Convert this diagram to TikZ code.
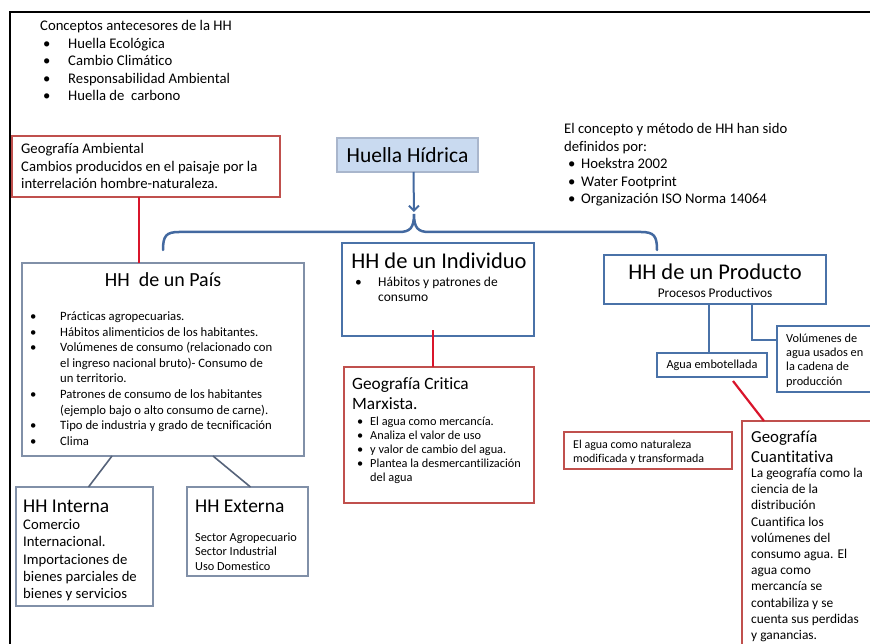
\documentclass[tikz,border=0pt]{standalone}
\usepackage{fontspec}
\setmainfont{Carlito}[Ligatures=NoCommon]
\usetikzlibrary{arrows.meta,calc}

\definecolor{boxred}{HTML}{C0504D}
\definecolor{linkred}{HTML}{D9152B}
\definecolor{boxblue}{HTML}{4A72A8}
\definecolor{boxgray}{HTML}{8190A8}
\definecolor{bracecol}{HTML}{4369A0}
\definecolor{linkgray}{HTML}{56637A}
\definecolor{hhfill}{HTML}{C9DAF0}
\definecolor{hhedge}{HTML}{A9B6CC}

\newcommand\fs[2]{\fontsize{#1}{#2}\selectfont}
\newcommand\bul[1]{\makebox[#1][l]{\textbullet}}
% stacked lines whose reference point is the first baseline
\newcommand\lines[1]{\begin{tabular}[t]{@{}l@{}}#1\end{tabular}}

\begin{document}
\begin{tikzpicture}[x=1pt,y=-1pt,
  panel/.style={inner sep=0, outer sep=0, anchor=north west, line width=1.2pt},
  redbox/.style={panel, draw=boxred},
  bluebox/.style={panel, draw=boxblue},
  graybox/.style={panel, draw=boxgray},
  txt/.style={inner sep=0, anchor=base west},
  ctxt/.style={inner sep=0, anchor=base},
  redlink/.style={draw=linkred, line width=2.2pt},
  bluelink/.style={draw=boxblue, line width=2pt},
  graylink/.style={draw=linkgray, line width=1.6pt},
  bracepath/.style={draw=bracecol, line width=2.5pt, line cap=round}
]
\useasboundingbox (0,0) rectangle (870,644);
\clip (0,0) rectangle (870,644);

% page frame
\draw[line width=2pt, black] (10,650) -- (10,12) -- (880,12);

% precursor concepts
\node[txt, font=\fs{14.7}{17.5}] (antec) at (40,31)
  {\lines{Conceptos antecesores de la HH\\
   \hspace*{3pt}\bul{25pt}Huella Ecológica\\
   \hspace*{3pt}\bul{25pt}Cambio Climático\\
   \hspace*{3pt}\bul{25pt}Responsabilidad Ambiental\\
   \hspace*{3pt}\bul{25pt}Huella de\ \ carbono}};

% who defined the concept
\node[txt, font=\fs{14.7}{17.5}] (defin) at (564,134)
  {\lines{El concepto y método de HH han sido\\
   definidos por:\\
   \hspace*{4pt}\bul{13pt}Hoekstra 2002\\
   \hspace*{4pt}\bul{13pt}Water Footprint\\
   \hspace*{4pt}\bul{13pt}Organización ISO Norma 14064}};

% environmental geography
\node[redbox, minimum width=268pt, minimum height=61pt] (ambiental) at (12,136) {};
\node[txt, font=\fs{14.7}{17.5}] at (21,154)
  {\lines{Geografía Ambiental\\
   Cambios producidos en el paisaje por la\\
   interrelación hombre-naturaleza.}};

% central concept
\node[panel, draw=hhedge, fill=hhfill, minimum width=141pt, minimum height=34pt,
      font=\fs{21.5}{24}] (huella) at (337,138) {Huella Hídrica};

% brace splitting into the three scales
\coordinate (bl) at (163,250);
\coordinate (bc) at (414,214);
\coordinate (br) at (657,250);
\path[bracepath] (bl) .. controls (163,236) and (166,232) .. (179,232)
  -- (399,232) .. controls (410,232) and (414,228) .. (bc)
  .. controls (414,228) and (418,232) .. (429,232)
  -- (641,232) .. controls (654,232) and (657,236) .. (br);
\draw[bracecol, line width=2pt, shorten >=2pt, -{Straight Barb[length=5pt,width=10pt]}]
  ([xshift=6]huella.south) -- (bc);

% country footprint
\node[graybox, minimum width=282pt, minimum height=193pt] (pais) at (22,263) {};
\node[ctxt, font=\fs{20}{24}] at (163,287) {HH\ \ de un País};
\node[txt, font=\fs{12.7}{15.6}] at (30,320.5)
  {\lines{\bul{30pt}Prácticas agropecuarias.\\
   \bul{30pt}Hábitos alimenticios de los habitantes.\\
   \bul{30pt}Volúmenes de consumo (relacionado con\\
   \hspace*{30pt}el ingreso nacional bruto)- Consumo de\\
   \hspace*{30pt}un territorio.\\
   \bul{30pt}Patrones de consumo de los habitantes\\
   \hspace*{30pt}(ejemplo bajo o alto consumo de carne).\\
   \bul{30pt}Tipo de industria y grado de tecnificación\\
   \bul{30pt}Clima}};

% internal and external footprint
\node[graybox, minimum width=137pt, minimum height=119pt] (interna) at (16,487) {};
\node[txt, font=\fs{19.5}{22}] at (23,512) {HH Interna};
\node[txt, font=\fs{14.7}{17.25}] at (23,529.5)
  {\lines{Comercio\\ Internacional.\\ Importaciones de\\ bienes parciales de\\ bienes y servicios}};

\node[graybox, minimum width=121pt, minimum height=89pt] (externa) at (187,487) {};
\node[txt, font=\fs{19.5}{22}] at (195,512) {HH Externa};
\node[txt, font=\fs{12.3}{14.5}] at (195,541)
  {\lines{Sector Agropecuario\\ Sector Industrial\\ Uso Domestico}};

% individual footprint
\node[bluebox, minimum width=192pt, minimum height=93pt] (individuo) at (342,243) {};
\node[ctxt, font=\fs{22.5}{26}] at (439,268.5) {HH de un Individuo};
\node[txt, font=\fs{13.5}{15}] at (355,287)
  {\lines{\bul{23pt}Hábitos y patrones de\\ \hspace*{23pt}consumo}};

% critical geography
\node[redbox, minimum width=190pt, minimum height=136pt] (marxista) at (344,367) {};
\node[txt, font=\fs{17.3}{20.5}] at (352,389) {\lines{Geografía Critica\\ Marxista.}};
\node[txt, font=\fs{12.3}{14}] at (357,425.5)
  {\lines{\bul{13pt}El agua como mercancía.\\
   \bul{13pt}Analiza el valor de uso\\
   \bul{13pt}y valor de cambio del agua.\\
   \bul{13pt}Plantea la desmercantilización\\
   \hspace*{13pt}del agua}};

% product footprint
\node[bluebox, minimum width=222pt, minimum height=49pt] (producto) at (604,255) {};
\node[ctxt, font=\fs{22.5}{26}] at (715,279.5) {HH de un Producto};
\node[ctxt, font=\fs{13.3}{15}] at (715,297.5) {Procesos Productivos};

\node[bluebox, minimum width=110pt, minimum height=24pt, font=\fs{12.3}{14}]
  (agua) at (657,353) {Agua embotellada};

\node[bluebox, minimum width=110pt, minimum height=66pt] (volumenes) at (777,326) {};
\node[txt, font=\fs{12.3}{14.2}] at (786,342.5)
  {\lines{Volúmenes de\\ agua usados en\\ la cadena de\\ producción}};

% water as transformed nature
\node[redbox, minimum width=168pt, minimum height=37pt] (naturaleza) at (564,432) {};
\node[txt, font=\fs{12}{14.5}] at (573,448)
  {\lines{El agua como naturaleza\\ modificada y transformada}};

% quantitative geography
\node[redbox, minimum width=160pt, minimum height=240pt] (cuant) at (742,421) {};
\node[txt, font=\fs{16.8}{20}] at (751,442) {\lines{Geografía\\ Cuantitativa}};
\node[txt, font=\fs{13.4}{16.2}] at (751,477.5)
  {\lines{La geografía como la\\ ciencia de la\\ distribución\\ Cuantifica los\\
   volúmenes\ del\\ consumo agua. El\\ agua como\\ mercancía se\\
   contabiliza y se\\ cuenta sus perdidas\\ y ganancias.}};

% connectors
\draw[redlink] ([xshift=-7]ambiental.south) -- ([xshift=-7]ambiental.south |- pais.north);
\draw[redlink] ([xshift=-5,yshift=6]individuo.south) -- ([xshift=-5]individuo.south |- marxista.north);
\draw[graylink] ([xshift=-51]pais.south) -- ([xshift=4]interna.north);
\draw[graylink] ([xshift=50]pais.south) -- ([xshift=3]externa.north);
\draw[bluelink] ([xshift=-6]producto.south) -- ([xshift=-6]producto.south |- agua.north);
\draw[bluelink] ([xshift=37]producto.south) |- ([yshift=19]volumenes.west);
\draw[redlink] ([xshift=21,yshift=-4]agua.south) -- ([xshift=22]cuant.north west);
\end{tikzpicture}
\end{document}
